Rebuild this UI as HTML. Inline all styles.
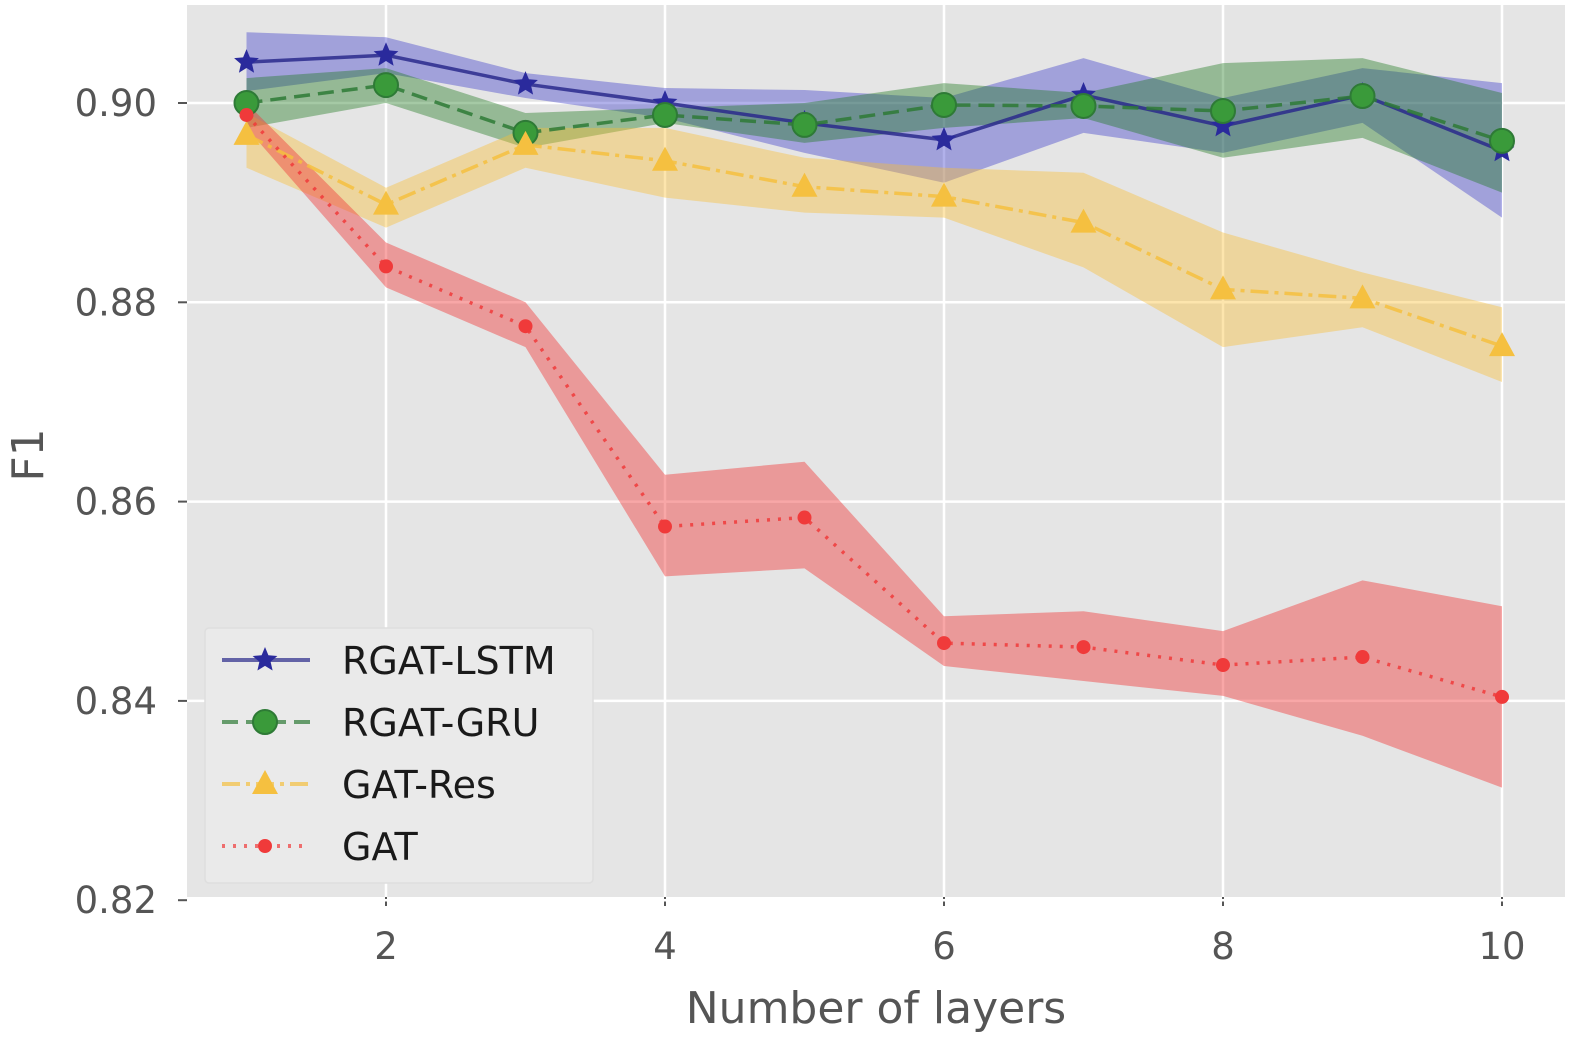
<!DOCTYPE html>
<html><head><meta charset="utf-8"><style>
html,body{margin:0;padding:0;background:#fff;}
svg{display:block;font-family:"DejaVu Sans","Liberation Sans",sans-serif;}
</style></head><body>
<svg id="chart" width="1585" height="1045" viewBox="0 0 1585 1045"></svg>
<script>
const layers=[1,2,3,4,5,6,7,8,9,10];
const lstmMean=[0.9041,0.9048,0.9019,0.9000,0.8980,0.8963,0.9008,0.8977,0.9008,0.8952];
const lstmUp=[0.9071,0.9066,0.9030,0.9015,0.9013,0.9005,0.9045,0.9005,0.9035,0.9020];
const lstmLo=[0.9012,0.9030,0.9005,0.8985,0.8950,0.8920,0.8970,0.8950,0.8980,0.8885];
const gruMean=[0.9000,0.9018,0.8970,0.8988,0.8978,0.8998,0.8997,0.8992,0.9007,0.8962];
const gruUp=[0.9025,0.9035,0.8990,0.8995,0.9000,0.9020,0.9010,0.9040,0.9045,0.9010];
const gruLo=[0.8975,0.9000,0.8955,0.8980,0.8960,0.8975,0.8985,0.8945,0.8965,0.8910];
const resMean=[0.8968,0.8898,0.8958,0.8942,0.8916,0.8906,0.8880,0.8813,0.8804,0.8756];
const resUp=[0.8990,0.8915,0.8975,0.8975,0.8945,0.8935,0.8930,0.8870,0.8830,0.8795];
const resLo=[0.8935,0.8875,0.8935,0.8905,0.8890,0.8885,0.8835,0.8755,0.8775,0.8720];
const gatMean=[0.8988,0.8836,0.8776,0.8575,0.8584,0.8458,0.8454,0.8436,0.8444,0.8404];
const gatUp=[0.9000,0.8860,0.8800,0.8627,0.8640,0.8485,0.8490,0.8470,0.8521,0.8495];
const gatLo=[0.8975,0.8815,0.8755,0.8525,0.8533,0.8435,0.8420,0.8405,0.8365,0.8313];
const xTicks=[2,4,6,8,10];
const yTicks=[0.82,0.84,0.86,0.88,0.90];
const legendLabels=["RGAT-LSTM","RGAT-GRU","GAT-Res","GAT"];

const NS="http://www.w3.org/2000/svg";
const svg=document.getElementById('chart');
const L=187,R=1565,T=5,B=897;
const xs=v=>386+(v-2)*139.5;
const ys=v=>103+(0.90-v)*9965;
function mk(tag,attrs,parent){const e=document.createElementNS(NS,tag);for(const k in attrs)e.setAttribute(k,attrs[k]);(parent||svg).appendChild(e);return e;}

let bg=mk('rect',{x:L,y:T,width:R-L,height:B-T,fill:'#e5e5e5'});


xTicks.forEach(t=>{
  let g=mk('line',{x1:xs(t),x2:xs(t),y1:T,y2:B,stroke:'#fff','stroke-width':2.5});
  
  
  let tk=mk('line',{x1:xs(t),x2:xs(t),y1:B,y2:B+9,stroke:'#555','stroke-width':2});
  
  
  let tx=mk('text',{x:xs(t),y:959,'text-anchor':'middle','font-size':37,fill:'#555'});
  tx.textContent=t;
  
  
});
yTicks.forEach(t=>{
  let g=mk('line',{x1:L,x2:R,y1:ys(t),y2:ys(t),stroke:'#fff','stroke-width':2.5});
  
  
  let tk=mk('line',{x1:L-9,x2:L,y1:ys(t),y2:ys(t),stroke:'#555','stroke-width':2});
  
  
  let tx=mk('text',{x:157,y:ys(t)+13,'text-anchor':'end','font-size':37,fill:'#555'});
  tx.textContent=t.toFixed(2);
  
  
});
let xt=mk('text',{x:876,y:1023,'text-anchor':'middle','font-size':44,fill:'#555'});
xt.textContent='Number of layers';


let yt=mk('text',{x:0,y:0,'text-anchor':'middle','font-size':44,fill:'#555',transform:'translate(43,455) rotate(-90)'});
yt.textContent='F1';



const series=[
 {name:'lstm',m:lstmMean,u:lstmUp,l:lstmLo,c:'#2a2a8c',band:'rgba(50,50,200,0.38)',dash:'',marker:'star'},
 {name:'gru',m:gruMean,u:gruUp,l:gruLo,c:'#2e7a36',band:'rgba(30,120,30,0.4)',dash:'16,8',marker:'circle'},
 {name:'res',m:resMean,u:resUp,l:resLo,c:'#f5c040',band:'rgba(250,190,50,0.4)',dash:'18,6,4,6',marker:'tri'},
 {name:'gat',m:gatMean,u:gatUp,l:gatLo,c:'#f03a3a',band:'rgba(240,60,60,0.45)',dash:'3,8',marker:'dot'}
];
function star(cx,cy,r){let p=[];for(let i=0;i<10;i++){const a=-Math.PI/2+i*Math.PI/5;const rr=i%2?r*0.45:r;p.push((cx+rr*Math.cos(a)).toFixed(1)+','+(cy+rr*Math.sin(a)).toFixed(1));}return p.join(' ');}
function marker(s,x,y,g){
  let e;
  if(s.marker==='star')e=mk('polygon',{points:star(x,y,13),fill:'#2a2a9c'},g);
  else if(s.marker==='circle')e=mk('circle',{cx:x,cy:y,r:12,fill:'#3a9a3a',stroke:'#2e7a36','stroke-width':2},g);
  else if(s.marker==='tri')e=mk('polygon',{points:`${x},${y-14} ${x-13},${y+10} ${x+13},${y+10}`,fill:'#f5c040'},g);
  else e=mk('circle',{cx:x,cy:y,r:7,fill:'#f03a3a'},g);
  return e;
}
series.forEach(s=>{
  let g=mk('g',{});
  
  
  let pts=layers.map((v,i)=>xs(v)+','+ys(s.u[i])).concat(layers.slice().reverse().map((v,j)=>{const i=layers.length-1-j;return xs(v)+','+ys(s.l[i]);}));
  let band=mk('polygon',{points:pts.join(' '),fill:s.band},g);
  
  
});
series.forEach(s=>{
  let g=mk('g',{});
  
  
  let ln=mk('polyline',{points:layers.map((v,i)=>xs(v)+','+ys(s.m[i])).join(' '),fill:'none',stroke:s.c,'stroke-width':3.5,'stroke-dasharray':s.dash,opacity:0.85},g);
  
  
  layers.forEach((v,i)=>{
    let m=marker(s,xs(v),ys(s.m[i]),g);
    
    
  });
});
let lg=mk('g',{});


mk('rect',{x:205,y:628,width:388,height:255,fill:'#eaeaea',stroke:'#dedede','stroke-width':1.5,rx:4},lg);
const ly=[660,722,784,846];
series.forEach((s,i)=>{
  let e=mk('g',{},lg);
  
  
  mk('line',{x1:222,x2:310,y1:ly[i],y2:ly[i],stroke:s.c,'stroke-width':4,'stroke-dasharray':s.dash,opacity:0.7},e);
  marker(s,265,ly[i],e);
  let t=mk('text',{x:342,y:ly[i]+14,'font-size':38,fill:'#1a1a1a'},e);
  t.textContent=legendLabels[i];
});
</script>
</body></html>
